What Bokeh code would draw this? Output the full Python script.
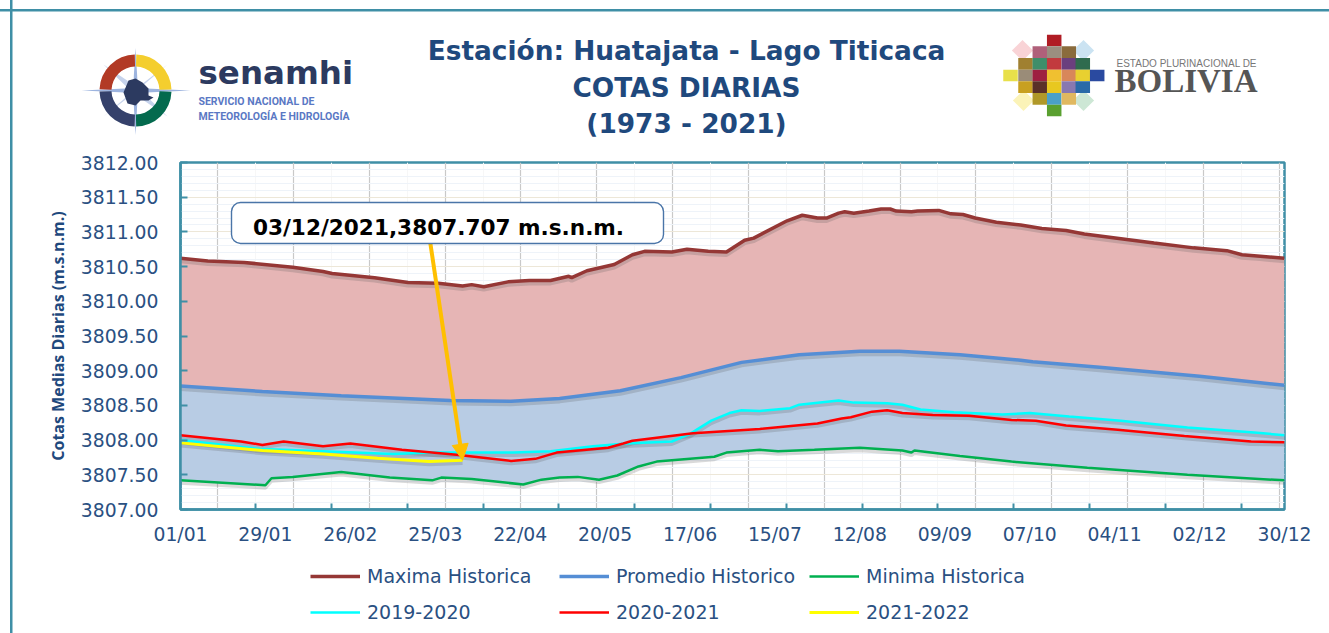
from bokeh.plotting import figure
from bokeh.layouts import column
from bokeh.embed import file_html
from bokeh.resources import INLINE
from bokeh.core.properties import value
from bokeh.models import (Range1d, FixedTicker, Legend, LegendItem, BoxAnnotation, Label, Arrow, NormalHead)
import numpy as np

# ---------- data ----------
label_days = [1, 29, 57, 85, 113, 141, 169, 197, 225, 253, 281, 309, 337, 365]
tick_labels = ["01/01", "29/01", "26/02", "25/03", "22/04", "20/05", "17/06", "15/07",
               "12/08", "09/09", "07/10", "04/11", "02/12", "30/12"]
y_ticks = [3807.0, 3807.5, 3808.0, 3808.5, 3809.0, 3809.5, 3810.0, 3810.5, 3811.0, 3811.5, 3812.0]

max_days = [1, 10, 22, 38, 48, 51, 65, 76, 86, 94, 97, 101, 109, 116, 123, 129, 130, 135, 144, 150, 154, 163,
            168, 175, 181, 187, 190, 201, 206, 211, 214, 218, 220, 223, 228, 232, 235, 237, 242, 244, 251, 255,
            259, 263, 270, 278, 285, 293, 299, 313, 322, 335, 346, 351, 357, 365]
max_vals = [3810.62, 3810.58, 3810.56, 3810.49, 3810.43, 3810.40, 3810.34, 3810.27, 3810.26, 3810.22, 3810.24,
            3810.21, 3810.28, 3810.30, 3810.30, 3810.36, 3810.34, 3810.44, 3810.53, 3810.67, 3810.72, 3810.71,
            3810.75, 3810.72, 3810.71, 3810.88, 3810.91, 3811.16, 3811.24, 3811.20, 3811.20, 3811.27, 3811.29,
            3811.27, 3811.30, 3811.33, 3811.33, 3811.30, 3811.29, 3811.30, 3811.31, 3811.26, 3811.25, 3811.20,
            3811.14, 3811.10, 3811.05, 3811.02, 3810.97, 3810.89, 3810.84, 3810.77, 3810.73, 3810.67, 3810.65,
            3810.62]

mean_days = [1, 28, 54, 90, 110, 126, 146, 166, 186, 205, 225, 238, 258, 278, 282, 304, 337, 365]
mean_vals = [3808.78, 3808.70, 3808.64, 3808.57, 3808.56, 3808.60, 3808.71, 3808.90, 3809.12, 3809.23, 3809.28,
             3809.28, 3809.23, 3809.15, 3809.13, 3809.05, 3808.92, 3808.79]

min_days = [1, 29, 31, 38, 54, 70, 84, 87, 97, 114, 120, 126, 132, 139, 145, 152, 158, 177, 181, 192, 198, 210,
            225, 239, 242, 243, 258, 275, 300, 333, 365]
min_vals = [3807.42, 3807.35, 3807.45, 3807.47, 3807.54, 3807.46, 3807.42, 3807.46, 3807.44, 3807.36, 3807.43,
            3807.46, 3807.47, 3807.43, 3807.49, 3807.62, 3807.69, 3807.76, 3807.82, 3807.86, 3807.84, 3807.86,
            3807.89, 3807.85, 3807.82, 3807.85, 3807.77, 3807.69, 3807.60, 3807.50, 3807.42]

s1920_days = [1, 28, 48, 71, 83, 97, 111, 123, 137, 148, 163, 169, 176, 182, 186, 192, 202, 205, 218, 223, 234,
              239, 245, 256, 272, 281, 294, 311, 333, 355, 365]
s1920_vals = [3808.00, 3807.87, 3807.84, 3807.80, 3807.82, 3807.82, 3807.82, 3807.84, 3807.91, 3807.95, 3807.98,
              3808.09, 3808.28, 3808.39, 3808.43, 3808.42, 3808.46, 3808.51, 3808.57, 3808.54, 3808.53, 3808.51,
              3808.44, 3808.40, 3808.37, 3808.39, 3808.34, 3808.28, 3808.18, 3808.11, 3808.07]

s2021_days = [1, 21, 28, 35, 48, 57, 74, 92, 110, 118, 125, 142, 147, 150, 170, 192, 211, 219, 222, 229, 234,
              239, 249, 261, 275, 283, 293, 310, 332, 354, 365]
s2021_vals = [3808.07, 3807.98, 3807.93, 3807.98, 3807.91, 3807.95, 3807.86, 3807.79, 3807.70, 3807.73, 3807.82,
              3807.89, 3807.95, 3807.99, 3808.10, 3808.16, 3808.24, 3808.31, 3808.33, 3808.41, 3808.43, 3808.39,
              3808.36, 3808.35, 3808.29, 3808.28, 3808.21, 3808.15, 3808.06, 3807.98, 3807.97]

s2122_days = [1, 28, 48, 66, 83, 94]
s2122_vals = [3807.96, 3807.85, 3807.80, 3807.74, 3807.69, 3807.71]

callout_text = "03/12/2021,3807.707 m.s.n.m."
BLUE = "#1F497D"
TEAL = "#3F8FA6"
SANS = "DejaVu Sans"

# ---------- header (coordinates are page pixels) ----------
head = figure(width=1329, height=140, x_range=Range1d(0, 1329), y_range=Range1d(140, 0),
              output_backend="svg", toolbar_location=None, min_border=0,
              x_axis_type=None, y_axis_type=None, frame_align=False)
head.grid.visible = False
head.outline_line_color = None
head.background_fill_color = None
head.border_fill_color = None

for t, yy in zip(["Estación: Huatajata - Lago Titicaca", "COTAS DIARIAS", "(1973 - 2021)"], [50, 87, 123]):
    head.text([686], [yy], text=[t], text_font=value(SANS), text_font_style="bold", text_font_size="26.4px",
              text_color=BLUE, text_align="center", text_baseline="middle")

# senamhi emblem
cx, cy = 135, 90
star = "#9DB4DF"
head.patch([135, 137.5, 135, 132.5], [47, 90, 135, 90], fill_color=star, line_color=None)
head.patch([81, 135, 190, 135], [90, 87.5, 90, 92.5], fill_color=star, line_color=None)
head.patch([103, 137, 167, 133], [64, 87, 116, 93], fill_color="#C6D3EC", line_color=None)
head.patch([167, 137, 103, 133], [64, 87, 116, 93], fill_color="#C6D3EC", line_color=None)
for a0, a1, col in [(0.03, 1.55, "#F4CE2E"), (1.59, 3.11, "#B23A25"), (3.17, 4.69, "#35416B"), (4.73, 6.25, "#046A4E")]:
    head.annular_wedge([cx], [cy], inner_radius=24, outer_radius=36, start_angle=a0, end_angle=a1,
                       fill_color=col, line_color=None)
head.patch([128, 135, 142, 148, 148, 153, 148, 140, 135, 127, 123],
           [80, 78, 82, 88, 95, 97, 100, 100, 105, 103, 92], fill_color="#2C3A60", line_color=None)
head.text([198], [72], text=["senamhi"], text_font=value("DejaVu Sans"), text_font_style="bold",
          text_font_size="32.5px", text_color="#2C3A60", text_baseline="middle")
head.text([198], [101], text=["SERVICIO NACIONAL DE"], text_font=value("Roboto"),
          text_font_size="10.5px", text_font_style="bold", text_color="#5A78C4", text_baseline="middle")
head.text([198], [115.5], text=["METEOROLOGÍA E HIDROLOGÍA"], text_font=value("Roboto"),
          text_font_size="10.5px", text_font_style="bold", text_color="#5A78C4", text_baseline="middle")

# Bolivia emblem
colx = [1010, 1025, 1039.3, 1053.7, 1068.3, 1082.3, 1096.7]
rowy = [40, 51.7, 63.3, 75, 86.7, 98.3, 110]
for dx, dy, c in [(1022, 50, "#F9D3D6"), (1083, 50, "#CBE3F2"), (1023, 100, "#FBF3B8"), (1083, 100, "#CDE7D5")]:
    head.rect([dx], [dy], width=15, height=15, angle=0.785, fill_color=c, line_color=None)
cells = [(3, 0, "#B01C24"), (2, 1, "#B0607A"), (3, 1, "#9B8E80"), (4, 1, "#8A6B3C"),
         (1, 2, "#A08030"), (2, 2, "#3E8E6A"), (3, 2, "#C23A3E"), (4, 2, "#6B3F7E"), (5, 2, "#2F6B4E"),
         (0, 3, "#E8E04A"), (1, 3, "#9A8C78"), (2, 3, "#9E2040"), (3, 3, "#F0C030"), (4, 3, "#D8875A"),
         (5, 3, "#E8D030"), (6, 3, "#2A4AA0"),
         (1, 4, "#C8A020"), (2, 4, "#5A3028"), (3, 4, "#E8C820"), (4, 4, "#8878B0"), (5, 4, "#2A6AA8"),
         (2, 5, "#B09828"), (3, 5, "#4AA0C8"), (4, 5, "#E0B860"), (3, 6, "#5AA030")]
head.rect([colx[c[0]] for c in cells], [rowy[c[1]] for c in cells], width=14.5, height=11.7,
          fill_color=[c[2] for c in cells], line_color=None)
head.text([1116], [63], text=["ESTADO PLURINACIONAL DE"], text_font=value("Liberation Sans"),
          text_font_size="10px", text_color="#777777", text_baseline="middle")
head.text([1114], [80], text=["BOLIVIA"], text_font=value("Liberation Serif"), text_font_style="bold",
          text_font_size="33px", text_color="#555555", text_baseline="middle")

# ---------- chart ----------
p = figure(width=1329, height=420, x_range=Range1d(1, 365), y_range=Range1d(3807, 3812),
           output_backend="svg", toolbar_location=None, frame_align=False,
           min_border_left=180, min_border_right=45, min_border_top=22, min_border_bottom=51)
p.outline_line_color = TEAL
p.outline_line_width = 2.5
p.background_fill_color = "white"
p.border_fill_color = None

grid_days = [13.25 + 25 * k for k in range(15)]
mid_days = [25.75 + 25 * k for k in range(14)]
y_minor = [3807 + 0.1 * k for k in range(51)]
p.xgrid.ticker = FixedTicker(ticks=grid_days, minor_ticks=mid_days)
p.xgrid.grid_line_color = "#C9C9C9"
p.xgrid.grid_line_width = 1.2
p.xgrid.minor_grid_line_color = "#F7F7F7"
p.ygrid.ticker = FixedTicker(ticks=y_ticks, minor_ticks=y_minor)
p.ygrid.grid_line_color = "#EDE7D8"
p.ygrid.grid_line_width = 1.2
p.ygrid.minor_grid_line_color = "#EEF3F9"
p.ygrid.minor_grid_line_width = 1.2

p.xaxis.ticker = FixedTicker(ticks=label_days, minor_ticks=mid_days)
p.xaxis.major_label_overrides = {d: t for d, t in zip(label_days, tick_labels)}
p.xaxis.major_tick_line_color = None
p.xaxis.minor_tick_in = 6
p.xaxis.minor_tick_out = 0
p.xaxis.minor_tick_line_color = TEAL
p.xaxis.minor_tick_line_width = 2
p.xaxis.axis_line_color = TEAL
p.xaxis.axis_line_width = 2.5
p.xaxis.major_label_standoff = 8
p.yaxis.ticker = FixedTicker(ticks=y_ticks)
p.yaxis.major_label_overrides = {v: f"{v:.2f}" for v in y_ticks}
p.yaxis.major_tick_in = 7
p.yaxis.major_tick_out = 0
p.yaxis.major_tick_line_color = TEAL
p.yaxis.major_tick_line_width = 2
p.yaxis.minor_tick_line_color = None
p.yaxis.axis_line_color = TEAL
p.yaxis.axis_line_width = 2.5
p.yaxis.major_label_standoff = 22
for ax in (p.xaxis, p.yaxis):
    ax.major_label_text_font = SANS
    ax.major_label_text_font_size = "18.8px"
    ax.major_label_text_color = "#2A5082"
p.yaxis.axis_label = "Cotas Medias Diarias (m.s.n.m.)"
p.yaxis.axis_label_text_font = "Open Sans"
p.yaxis.axis_label_text_font_style = "bold"
p.yaxis.axis_label_text_font_size = "16px"
p.yaxis.axis_label_text_color = BLUE
p.yaxis.axis_label_standoff = 9

# bands
p.patch(max_days + mean_days[::-1], max_vals + mean_vals[::-1], fill_color="#E6B5B5", line_color=None)
p.patch(mean_days + min_days[::-1], mean_vals + min_vals[::-1], fill_color="#B8CCE4", line_color=None)

series = [("Maxima Historica", max_days, max_vals, "#953735", 3.5),
          ("Promedio Historico", mean_days, mean_vals, "#558ED5", 3.5),
          ("Minima Historica", min_days, min_vals, "#00B050", 2.5),
          ("2019-2020", s1920_days, s1920_vals, "#00FFFF", 2.5),
          ("2020-2021", s2021_days, s2021_vals, "#FF0000", 2.5),
          ("2021-2022", s2122_days, s2122_vals, "#FFFF00", 3)]
# soft shadow under each line
for name, d, v, c, w in series:
    p.line(d, list(np.array(v) - 0.035), line_color="#555555", line_alpha=0.22, line_width=w + 1.5)
for name, d, v, c, w in series:
    p.line(d, v, line_color=c, line_width=w)

# callout
p.add_layout(Arrow(end=NormalHead(size=16, fill_color="#FFC000", line_color="#FFC000"),
                   x_start=83.4, y_start=3810.83, x_end=s2122_days[-1], y_end=s2122_vals[-1],
                   line_color="#FFC000", line_width=4))
p.add_layout(BoxAnnotation(left=231, right=663, top=202 - 140, bottom=243 - 140,
                           left_units="canvas", right_units="canvas", top_units="canvas", bottom_units="canvas",
                           fill_color="white", fill_alpha=1, line_color="#4A75A8", line_alpha=1, line_width=1.4,
                           border_radius=9, level="overlay"))
p.add_layout(Label(x=86.06, y=3811.06, text=callout_text,
                   text_font=SANS, text_font_style="bold", text_font_size="21.6px", text_color="black",
                   text_align="center", text_baseline="middle", level="overlay"))

# ---------- legend strip: one single-column legend per legend column ----------
leg = figure(width=1329, height=73, x_range=Range1d(0, 1), y_range=Range1d(0, 1),
             output_backend="svg", toolbar_location=None, min_border=0,
             x_axis_type=None, y_axis_type=None, frame_align=False)
leg.grid.visible = False
leg.outline_line_color = None
leg.background_fill_color = None
leg.border_fill_color = None
renderers = {}
for name, d, v, c, w in series:
    # the strip's range never shows these keys; only the legend samples are visible
    renderers[name] = leg.line([5, 6], [5, 5], line_color=c, line_width=w)
for x0, (a, b) in zip([310, 559, 809], [(0, 3), (1, 4), (2, 5)]):
    names = [series[a][0], series[b][0]]
    leg.add_layout(Legend(items=[LegendItem(label=n, renderers=[renderers[n]]) for n in names],
                          location=(x0, 10), orientation="vertical",
                          background_fill_alpha=0, border_line_color=None, padding=0, margin=0,
                          glyph_width=50, glyph_height=20, label_height=20, label_standoff=7, spacing=14,
                          label_text_font=SANS, label_text_font_size="19px", label_text_color="#2A5082"), "center")

page = column(head, p, leg, spacing=0,
              styles={"background": f"linear-gradient({TEAL},{TEAL}) 10px 0/2.5px 100% no-repeat,"
                                    f"linear-gradient({TEAL},{TEAL}) 0 9px/100% 2.5px no-repeat"})
open("out.html", "w").write(file_html(page, INLINE))
